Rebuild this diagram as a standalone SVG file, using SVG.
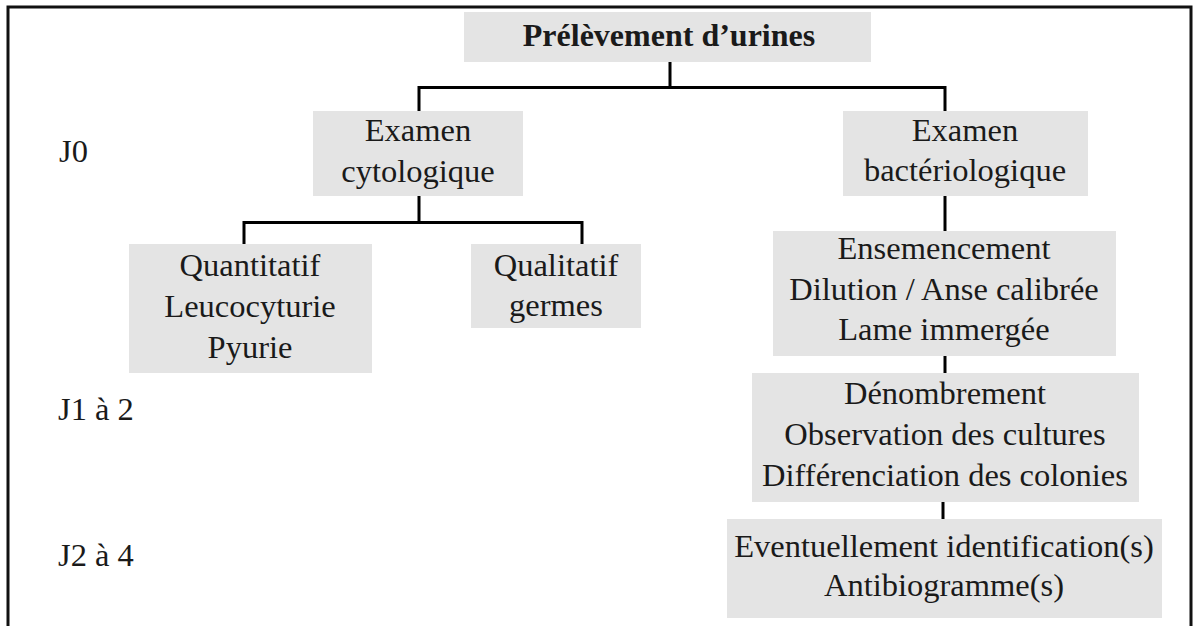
<svg xmlns="http://www.w3.org/2000/svg" width="1199" height="626" viewBox="0 0 1199 626" font-family="Liberation Serif, Times New Roman, serif" font-size="32.5">
<style>
.box{fill:#e4e4e4}
text{fill:#1a1a1a}
.t{text-anchor:middle}
.c{stroke:#000;stroke-width:3;fill:none}
</style>
<rect width="1199" height="626" fill="#fff"/>
<path d="M8,640 V7 H1191 V640" fill="none" stroke="#111" stroke-width="3"/>
<g id="labels">
<text x="59" y="162">J0</text>
<text x="58" y="420">J1 à 2</text>
<text x="58" y="566">J2 à 4</text>
</g>
<g id="connectors">
<path class="c" d="M670,62 V87.5 M419,111 V87.5 H945 V111"/>
<path class="c" d="M419,196 V222.5 M244,244 V222.5 H582 V244"/>
<path class="c" d="M945,196 V231"/>
<path class="c" d="M945,356 V373"/>
<path class="c" d="M943,502 V519"/>
</g>
<g id="n-prelevement">
<rect class="box" x="464" y="12" width="407" height="50"/>
<text class="t" x="669" y="46" font-weight="bold" font-size="32">Prélèvement d’urines</text>
</g>
<g id="n-cyto">
<rect class="box" x="313" y="111" width="210" height="85"/>
<text class="t" x="418" y="141">Examen</text>
<text class="t" x="418" y="182">cytologique</text>
</g>
<g id="n-bacterio">
<rect class="box" x="843" y="111" width="245" height="85"/>
<text class="t" x="965" y="141">Examen</text>
<text class="t" x="965" y="181">bactériologique</text>
</g>
<g id="n-quanti">
<rect class="box" x="129" y="244" width="243" height="129"/>
<text class="t" x="250" y="276">Quantitatif</text>
<text class="t" x="250" y="317">Leucocyturie</text>
<text class="t" x="250" y="358">Pyurie</text>
</g>
<g id="n-quali">
<rect class="box" x="471" y="244" width="170" height="84"/>
<text class="t" x="556" y="276">Qualitatif</text>
<text class="t" x="556" y="316">germes</text>
</g>
<g id="n-ensemencement">
<rect class="box" x="773" y="231" width="343" height="125"/>
<text class="t" x="944" y="259">Ensemencement</text>
<text class="t" x="944" y="300">Dilution / Anse calibrée</text>
<text class="t" x="944" y="340">Lame immergée</text>
</g>
<g id="n-denombrement">
<rect class="box" x="752" y="373" width="387" height="129"/>
<text class="t" x="945" y="404">Dénombrement</text>
<text class="t" x="945" y="445">Observation des cultures</text>
<text class="t" x="945" y="486">Différenciation des colonies</text>
</g>
<g id="n-identification">
<rect class="box" x="727" y="519" width="435" height="99"/>
<text class="t" x="944" y="557">Eventuellement identification(s)</text>
<text class="t" x="944" y="596">Antibiogramme(s)</text>
</g>
</svg>
